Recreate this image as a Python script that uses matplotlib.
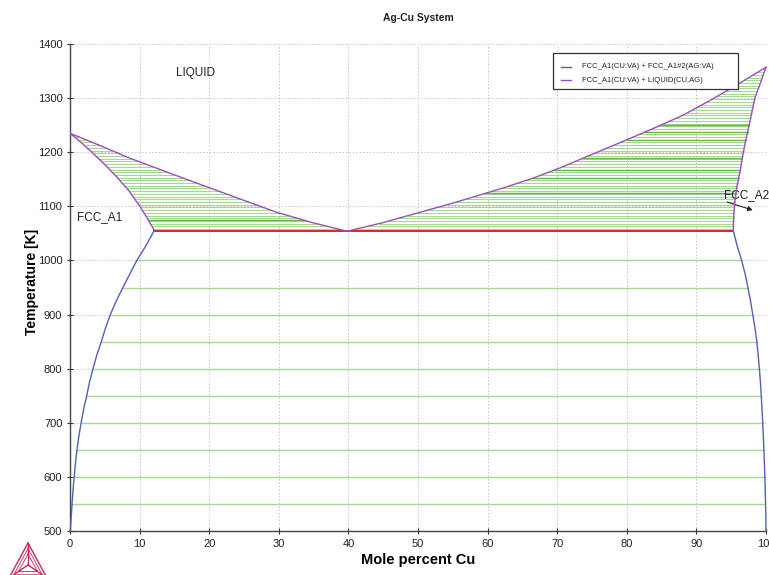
import numpy as np
import matplotlib
matplotlib.use("Agg")
import matplotlib.pyplot as plt
from matplotlib.lines import Line2D
from matplotlib.patches import Rectangle

plt.rcParams['font.family'] = ['Liberation Sans', 'DejaVu Sans']

# ---- phase boundary data (T in K, x in mole percent Cu) ----
liq_left_T = [1235, 1213, 1189, 1162, 1134, 1111, 1089, 1070, 1054]
liq_left_x = [0.0, 4.2, 8.6, 14.2, 20.1, 25.0, 29.7, 34.8, 39.8]

sol_left_T = [1235, 1218, 1198, 1177, 1154, 1128, 1099, 1078, 1056]
sol_left_x = [0.0, 1.6, 3.3, 5.0, 6.75, 8.5, 10.1, 11.1, 12.1]

liq_right_T = [1054, 1070, 1088, 1106, 1121, 1135, 1152, 1171, 1196, 1223,
               1245, 1268, 1296, 1326, 1357]
liq_right_x = [39.8, 45.0, 50.0, 55.0, 58.9, 62.5, 66.5, 70.4, 75.0, 80.0,
               84.0, 88.0, 92.0, 96.0, 100.0]

sol_right_T = [1054, 1080, 1106, 1135, 1167, 1190, 1217, 1245, 1270, 1300, 1328, 1357]
sol_right_x = [95.3, 95.35, 95.5, 95.8, 96.3, 96.6, 97.0, 97.5, 97.9, 98.4, 99.2, 100.0]

solvus_T = [1055, 1025, 1000, 975, 950, 925, 900, 875, 850, 825, 800, 775, 750,
            725, 700, 675, 650, 625, 600, 575, 550, 525, 500]
solvus_left_x = [12.1, 10.8, 9.6, 8.6, 7.6, 6.65, 5.8, 5.1, 4.5, 3.85, 3.3, 2.8, 2.4,
                 1.95, 1.6, 1.27, 1.0, 0.78, 0.6, 0.43, 0.3, 0.17, 0.05]
solvus_right_x = [95.3, 95.9, 96.5, 97.0, 97.4, 97.78, 98.1, 98.42, 98.68, 98.88, 99.05,
                  99.2, 99.32, 99.43, 99.53, 99.62, 99.7, 99.77, 99.83, 99.89, 99.94,
                  99.98, 100.0]

eutectic_T = 1054
eutectic_x_left = 12.1
eutectic_x_right = 95.3

# tie-line temperatures
tie_solid_T = [1000, 950, 900, 850, 800, 750, 700, 650, 600, 550]
tie_left_T = [1058, 1063, 1068, 1073, 1078, 1083, 1088, 1093, 1098, 1103, 1108,
              1113, 1118, 1123, 1128, 1133, 1138, 1143, 1148, 1153, 1158, 1163,
              1168, 1173, 1178, 1183, 1188, 1193, 1198, 1203, 1208, 1213, 1218,
              1223, 1228, 1232]
tie_left_dark_T = [1075]
tie_right_T = [1058, 1063, 1068, 1073, 1078, 1083, 1088, 1093, 1098, 1103, 1108,
               1113, 1118, 1123, 1128, 1133, 1138, 1143, 1148, 1153, 1158, 1163,
               1168, 1173, 1178, 1183, 1188, 1193, 1198, 1203, 1208, 1213, 1218,
               1223, 1228, 1233, 1238, 1243, 1248, 1253, 1258, 1263, 1268, 1273,
               1278, 1283, 1288, 1293, 1298, 1303, 1308, 1313, 1318, 1323, 1328,
               1333, 1338, 1343, 1348, 1353]
tie_right_dark_T = [1124, 1152, 1167, 1190, 1223, 1237, 1250]

x_ticks = [0, 10, 20, 30, 40, 50, 60, 70, 80, 90, 100]
y_ticks = [500, 600, 700, 800, 900, 1000, 1100, 1200, 1300, 1400]

legend_labels = ["FCC_A1(CU:VA) + FCC_A1#2(AG:VA)", "FCC_A1(CU:VA) + LIQUID(CU,AG)"]

# colors
c_blue = "#5460b4"
c_purple = "#9b4fbf"
c_red = "#d42a1e"
c_tie = "#a6d890"
c_tie_dark = "#62b84a"

W, H = 769, 575
fig = plt.figure(figsize=(W / 100, H / 100), dpi=100)
ax = fig.add_axes([70 / W, 1 - 531 / H, (766 - 70) / W, (531 - 44) / H])

ax.set_xlim(0, 100)
ax.set_ylim(500, 1400)


def interp_x(T, Ts, xs):
    order = np.argsort(Ts)
    return np.interp(T, np.asarray(Ts)[order], np.asarray(xs)[order])


# tie lines in L + FCC regions
for T in tie_left_T:
    ax.plot([interp_x(T, sol_left_T, sol_left_x), interp_x(T, liq_left_T, liq_left_x)],
            [T, T], color=c_tie, lw=0.8, zorder=2)
for T in tie_left_dark_T:
    ax.plot([interp_x(T, sol_left_T, sol_left_x), interp_x(T, liq_left_T, liq_left_x)],
            [T, T], color=c_tie_dark, lw=1.0, zorder=2)
for T in tie_right_T:
    ax.plot([interp_x(T, liq_right_T, liq_right_x), interp_x(T, sol_right_T, sol_right_x)],
            [T, T], color=c_tie, lw=0.8, zorder=2)
for T in tie_right_dark_T:
    ax.plot([interp_x(T, liq_right_T, liq_right_x), interp_x(T, sol_right_T, sol_right_x)],
            [T, T], color=c_tie_dark, lw=1.0, zorder=2)

# tie lines in FCC + FCC region
for T in tie_solid_T:
    ax.plot([interp_x(T, solvus_T, solvus_left_x), interp_x(T, solvus_T, solvus_right_x)],
            [T, T], color=c_tie, lw=1.0, zorder=2)

# eutectic line
ax.plot([eutectic_x_left, eutectic_x_right], [eutectic_T, eutectic_T],
        color=c_red, lw=1.4, zorder=3)

# boundaries
ax.plot(solvus_left_x, solvus_T, color=c_blue, lw=1.0, zorder=4, clip_on=False)
ax.plot(solvus_right_x, solvus_T, color=c_blue, lw=1.0, zorder=4, clip_on=False)
ax.plot(liq_left_x, liq_left_T, color=c_purple, lw=1.0, zorder=4)
ax.plot(sol_left_x, sol_left_T, color=c_purple, lw=1.0, zorder=4)
ax.plot(liq_right_x, liq_right_T, color=c_purple, lw=1.0, zorder=4, clip_on=False)
ax.plot(sol_right_x, sol_right_T, color=c_purple, lw=1.0, zorder=4, clip_on=False)

# axes styling
ax.set_xticks(x_ticks)
ax.set_yticks(y_ticks)
ax.tick_params(direction='inout', length=4, width=0.8, labelsize=8,
               colors='#333333', labelcolor='#222222')
ax.grid(True, color='#c4c4c4', linestyle=(0, (1.5, 2)), linewidth=0.7, zorder=0)
ax.set_axisbelow(True)
for s in ['top', 'right']:
    ax.spines[s].set_visible(False)
for s in ['left', 'bottom']:
    ax.spines[s].set_color('#444444')
    ax.spines[s].set_linewidth(1.0)

ax.set_xlabel("Mole percent Cu", fontsize=10.5, fontweight='bold', labelpad=3)
ax.set_ylabel("Temperature [K]", fontsize=10, fontweight='bold')
ax.yaxis.set_label_coords(-0.045, (531 - 282) / 487)
fig.text(418 / W, 1 - 18 / H, "Ag-Cu System", ha='center', va='center',
         fontsize=7.5, fontweight='bold', color='#222222')

# region labels
ax.text(18.0, 1346, "LIQUID", fontsize=8.5, ha='center', va='center', color='#222222')
ax.text(4.3, 1080, "FCC_A1", fontsize=8.5, ha='center', va='center', color='#222222')
ax.text(94.0, 1120, "FCC_A2", fontsize=8.5, ha='left', va='center', color='#222222',
        clip_on=False)
ax.annotate("", xy=(98.1, 1093), xytext=(94.4, 1108),
            arrowprops=dict(arrowstyle='-|>', color='#222222', lw=0.8,
                            mutation_scale=7, shrinkA=0, shrinkB=0))

# legend (drawn in figure pixel positions)
def fx(px):
    return px / W


def fy(py):
    return 1 - py / H


fig.add_artist(Rectangle((fx(553), fy(89)), fx(738) - fx(553), fy(53) - fy(89),
                         transform=fig.transFigure, facecolor='white',
                         edgecolor='#333333', linewidth=0.9, zorder=10))
for py, col, lab in [(67, c_blue, legend_labels[0]), (80, c_purple, legend_labels[1])]:
    fig.add_artist(Line2D([fx(561), fx(571)], [fy(py), fy(py)], color=col, lw=1.0,
                          transform=fig.transFigure, zorder=11))
    fig.text(fx(582), fy(py), lab, fontsize=5.5, ha='left', va='center',
             color='#222222', zorder=11)

# logo (triangle) in bottom-left corner
lax = fig.add_axes([0, 0, 60 / W, 35 / H])
lax.set_xlim(0, 60)
lax.set_ylim(35, 0)
lax.axis('off')
logo_c = "#c8285a"
A, B, C, O = (28, 3), (9, 38), (47, 38), (28, 25)
for p, q in [(A, B), (B, C), (C, A), (A, O), (B, O), (C, O)]:
    lax.plot([p[0], q[0]], [p[1], q[1]], color=logo_c, lw=1.0, clip_on=True)
for f in [0.75, 0.5]:
    pts = [(O[0] + f * (P[0] - O[0]), O[1] + f * (P[1] - O[1])) for P in (A, B, C)]
    xs = [pp[0] for pp in pts] + [pts[0][0]]
    ys = [pp[1] for pp in pts] + [pts[0][1]]
    lax.plot(xs, ys, color=logo_c, lw=0.6)

fig.savefig("out.png", dpi=100)
